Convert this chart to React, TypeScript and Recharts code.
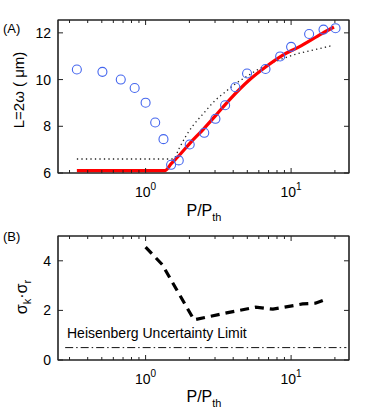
import React from 'react';
import { ComposedChart, Line, XAxis, YAxis, ReferenceArea } from 'recharts';

const FONT = '"Liberation Sans", Arial, Helvetica, sans-serif';
const AXIS = '#222';

// shared log x axis
const X_DOMAIN = [0.25, 25];
const X_TICKS = [0.3, 0.4, 0.5, 0.6, 0.7, 0.8, 0.9, 1, 2, 3, 4, 5, 6, 7, 8, 9, 10, 20];
const X_DECADES = [1, 10];
const X_EXPONENTS = ['0', '1'];

// panel A: measured width (circles), model (red), other model (dotted)
const measuredA = [
  { x: 0.337, y: 10.43 }, { x: 0.505, y: 10.33 }, { x: 0.675, y: 10.0 },
  { x: 0.841, y: 9.64 }, { x: 1.0, y: 9.01 }, { x: 1.164, y: 8.16 },
  { x: 1.327, y: 7.45 }, { x: 1.497, y: 6.35 }, { x: 1.69, y: 6.54 },
  { x: 2.01, y: 7.22 }, { x: 2.53, y: 7.72 }, { x: 3.02, y: 8.32 },
  { x: 3.52, y: 8.9 }, { x: 4.14, y: 9.67 }, { x: 4.98, y: 10.26 },
  { x: 6.67, y: 10.45 }, { x: 8.41, y: 10.99 }, { x: 10.0, y: 11.4 },
  { x: 13.3, y: 11.95 }, { x: 16.7, y: 12.14 }, { x: 20.2, y: 12.2 },
];
const modelA = [
  { x: 0.337, y: 6.1 }, { x: 1.355, y: 6.1 }, { x: 1.5, y: 6.4 },
  { x: 1.7, y: 6.75 }, { x: 2.0, y: 7.25 }, { x: 2.5, y: 7.88 },
  { x: 3.06, y: 8.49 }, { x: 3.77, y: 9.13 }, { x: 5.16, y: 9.98 },
  { x: 6.71, y: 10.55 }, { x: 8.73, y: 11.04 }, { x: 11.35, y: 11.4 },
  { x: 16.3, y: 11.97 }, { x: 19.7, y: 12.25 },
];
const dottedA = [
  { x: 0.337, y: 6.6 }, { x: 1.55, y: 6.6 }, { x: 1.7, y: 7.05 },
  { x: 1.9, y: 7.6 }, { x: 2.1, y: 8.0 }, { x: 2.5, y: 8.55 },
  { x: 3.0, y: 9.1 }, { x: 3.5, y: 9.45 }, { x: 4.0, y: 9.75 },
  { x: 5.0, y: 10.15 }, { x: 6.0, y: 10.45 }, { x: 8.0, y: 10.8 },
  { x: 11.0, y: 11.1 }, { x: 15.0, y: 11.3 }, { x: 19.0, y: 11.45 },
];
const Y_DOMAIN_A = [6, 12.55];
const Y_TICKS_A = [6, 8, 10, 12];

// panel B: uncertainty product and Heisenberg limit
const productB = [
  { x: 1.0, y: 4.55 }, { x: 1.3, y: 3.85 }, { x: 2.15, y: 1.62 },
  { x: 3.6, y: 1.9 }, { x: 5.7, y: 2.13 }, { x: 7.5, y: 2.05 },
  { x: 12.0, y: 2.26 }, { x: 14.7, y: 2.29 }, { x: 16.8, y: 2.42 },
];
const limitB = [{ x: 0.28, y: 0.5 }, { x: 24, y: 0.5 }];
const Y_DOMAIN_B = [0, 5];
const Y_TICKS_B = [0, 2, 4];

const BottomTick = (p: any) => {
  const i = X_DECADES.indexOf(p.payload.value);
  const major = i >= 0;
  return (
    <g>
      <line x1={p.x} x2={p.x} y1={p.y} y2={p.y - (major ? 5 : 3)} stroke={AXIS} />
      {major && (
        <text x={p.x} y={p.y + 23.5} textAnchor="middle" fontSize={14} fontFamily={FONT} fill="#000">
          10<tspan dy={-7} fontSize={10}>{X_EXPONENTS[i]}</tspan>
        </text>
      )}
    </g>
  );
};

const TopTick = (p: any) => {
  const major = X_DECADES.includes(p.payload.value);
  return <line x1={p.x} x2={p.x} y1={p.y} y2={p.y + (major ? 5 : 3)} stroke={AXIS} />;
};

const LeftTick = (p: any) => (
  <g>
    <line x1={p.x} x2={p.x + 5} y1={p.y} y2={p.y} stroke={AXIS} />
    <text x={p.x - 7} y={p.y} dy="0.36em" textAnchor="end" fontSize={14} fontFamily={FONT} fill="#000">
      {p.payload.value}
    </text>
  </g>
);

const RightTick = (p: any) => <line x1={p.x} x2={p.x - 5} y1={p.y} y2={p.y} stroke={AXIS} />;

const common = { tickSize: 0, tickMargin: 0, tickLine: false, interval: 0, allowDataOverflow: true, axisLine: { stroke: AXIS } };
const xCommon = { ...common, dataKey: 'x', type: 'number' as const, scale: 'log' as const, domain: X_DOMAIN, ticks: X_TICKS };

export default function App() {
  return (
    <div style={{ position: 'absolute', left: 0, top: 0, width: 388, height: 415, background: '#fff' }}>
      <div style={{ position: 'absolute', left: 0, top: 0 }}>
        <ComposedChart width={388} height={210} margin={{ top: 0, right: 19, bottom: 7, left: 10 }}>
          <XAxis xAxisId={0} {...xCommon} height={30} tick={(p: any) => <BottomTick {...p} />} />
          <XAxis xAxisId="top" orientation="top" {...xCommon} height={20} tick={(p: any) => <TopTick {...p} />} />
          <YAxis yAxisId={0} type="number" domain={Y_DOMAIN_A} ticks={Y_TICKS_A} {...common} width={48}
            tick={(p: any) => <LeftTick {...p} />} />
          <YAxis yAxisId="right" orientation="right" type="number" domain={Y_DOMAIN_A} ticks={Y_TICKS_A} {...common}
            width={20} tick={(p: any) => <RightTick {...p} />} />
          {/* plot box */}
          <ReferenceArea x1={X_DOMAIN[0]} x2={X_DOMAIN[1]} y1={Y_DOMAIN_A[0]} y2={Y_DOMAIN_A[1]}
            ifOverflow="visible" fill="none" fillOpacity={0} stroke={AXIS} strokeWidth={1.2} />
          <Line data={modelA} dataKey="y" xAxisId="top" yAxisId="right" stroke="none"
            dot={false} activeDot={false} isAnimationActive={false} />
          <Line data={dottedA} dataKey="y" type="monotone" stroke="#222" strokeWidth={1.3}
            strokeDasharray="1.3 3.2" dot={false} activeDot={false} isAnimationActive={false} />
          <Line data={modelA} dataKey="y" type="monotone" stroke="#ff0000" strokeWidth={3.2} dot={false}
            activeDot={false} isAnimationActive={false} />
          <Line data={measuredA} dataKey="y" stroke="none" activeDot={false} isAnimationActive={false}
            dot={{ r: 4.5, stroke: '#4466ee', strokeWidth: 1.1, fill: 'none' }} />
        </ComposedChart>
      </div>
      <div style={{ position: 'absolute', left: 0, top: 210 }}>
        <ComposedChart width={388} height={205} margin={{ top: 6, right: 19, bottom: 25, left: 10 }}>
          <XAxis xAxisId={0} {...xCommon} height={30} tick={(p: any) => <BottomTick {...p} />} />
          <XAxis xAxisId="top" orientation="top" {...xCommon} height={20} tick={(p: any) => <TopTick {...p} />} />
          <YAxis yAxisId={0} type="number" domain={Y_DOMAIN_B} ticks={Y_TICKS_B} {...common} width={48}
            tick={(p: any) => <LeftTick {...p} />} />
          <YAxis yAxisId="right" orientation="right" type="number" domain={Y_DOMAIN_B} ticks={Y_TICKS_B} {...common}
            width={20} tick={(p: any) => <RightTick {...p} />} />
          <ReferenceArea x1={X_DOMAIN[0]} x2={X_DOMAIN[1]} y1={Y_DOMAIN_B[0]} y2={Y_DOMAIN_B[1]}
            ifOverflow="visible" fill="none" fillOpacity={0} stroke={AXIS} strokeWidth={1.2} />
          <Line data={productB} dataKey="y" xAxisId="top" yAxisId="right" stroke="none"
            dot={false} activeDot={false} isAnimationActive={false} />
          <Line data={limitB} dataKey="y" stroke="#111" strokeWidth={1} strokeDasharray="8 3 1.5 3"
            dot={false} activeDot={false} isAnimationActive={false} />
          <Line data={productB} dataKey="y" stroke="#000" strokeWidth={3.2} strokeDasharray="9 6"
            dot={false} activeDot={false} isAnimationActive={false} />
        </ComposedChart>
      </div>
      <svg width={388} height={415} style={{ position: 'absolute', left: 0, top: 0, pointerEvents: 'none' }}
        fontFamily={FONT} fill="#000">
        <text x={3} y={33} fontSize={13}>(A)</text>
        <text x={3} y={241} fontSize={13}>(B)</text>
        <text x={24} y={90} fontSize={15} textAnchor="middle" transform="rotate(-90 24 90)">L=2ω ( μm)</text>
        <text x={27} y={297} fontSize={16} textAnchor="middle" transform="rotate(-90 27 297)">
          σ<tspan dy={4} fontSize={11}>k</tspan><tspan dy={-4}>·σ</tspan><tspan dy={4} fontSize={11}>r</tspan>
        </text>
        <text x={204} y={216} fontSize={16} textAnchor="middle">
          P/P<tspan dy={5} fontSize={11}>th</tspan>
        </text>
        <text x={204} y={402} fontSize={16} textAnchor="middle">
          P/P<tspan dy={5} fontSize={11}>th</tspan>
        </text>
        <text x={67} y={338} fontSize={14}>Heisenberg Uncertainty Limit</text>
      </svg>
    </div>
  );
}
